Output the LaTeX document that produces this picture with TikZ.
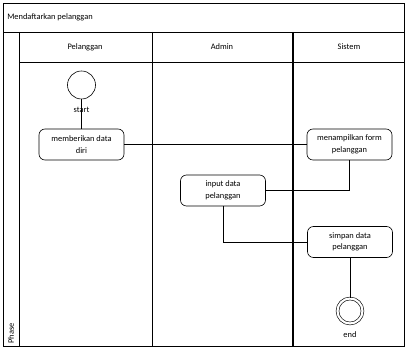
\documentclass[tikz,border=0pt]{standalone}
\usepackage{fontspec}
\setmainfont{Carlito}
\begin{document}
\begin{tikzpicture}[x=1pt,y=-1pt,line width=0.6pt,
    act/.style={draw,rounded corners=6pt,minimum width=85pt,minimum height=31pt,
      align=center,inner sep=1pt,font=\fontsize{8.4}{11.5}\selectfont},
    txt/.style={font=\fontsize{8.4}{10}\selectfont,inner sep=1pt}]
  \useasboundingbox (0,0) rectangle (405,347);
  % swimlane frame
  \draw (3,3) rectangle (404,346);
  \draw (3,32) -- (404,32);
  \draw (19,32) -- (19,346);
  \draw (19,62) -- (404,62);
  \draw (152,32) -- (152,346);
  \draw [line width=1.2pt] (293,32) -- (293,346);
  \node[txt,anchor=west] (title) at (6,17) {Mendaftarkan pelanggan};
  \node[txt,rotate=90,anchor=west] (phase) at (11,345) {Phase};
  \node[txt] (lane1) at (85,47) {Pelanggan};
  \node[txt] (lane2) at (222,47) {Admin};
  \node[txt] (lane3) at (349,47) {Sistem};
  % activities
  \node[circle,draw,minimum size=28pt,inner sep=0pt] (start) at (81.5,85) {};
  \node[txt] (startlbl) at (81.5,110) {start};
  \node[act] (beri) at (81.5,144.5) {memberikan data\\diri};
  \node[act] (tampil) at (349.5,144.5) {menampilkan form\\pelanggan};
  \node[act] (input) at (223,190.5) {input data\\pelanggan};
  \node[act] (simpan) at (350,242) {simpan data\\pelanggan};
  \node[circle,draw,double,double distance=2.2pt,minimum size=25pt,inner sep=0pt] (end) at (350,311) {};
  \node[txt] (endlbl) at (350,335) {end};
  % flows
  \draw (start) -- (beri);
  \draw (beri) -- (tampil);
  \draw (tampil.south) |- (input.east);
  \draw (input.south) |- (simpan.west);
  \draw (simpan) -- (end);
\end{tikzpicture}
\end{document}
